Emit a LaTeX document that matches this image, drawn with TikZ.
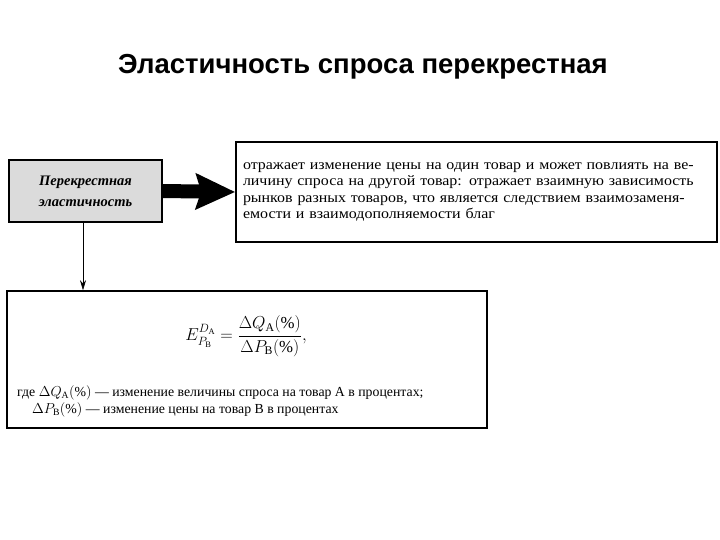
\documentclass[tikz,border=0pt]{standalone}
\usepackage{amsmath}
\usepackage{fontspec}
\setmainfont{Liberation Serif}
\newfontfamily\titlefont{Liberation Sans}
\newfontfamily\widefont[FakeStretch=1.1]{Liberation Serif}
\usetikzlibrary{arrows.meta}

\begin{document}
\begin{tikzpicture}[x=1pt,y=-1pt,
  frame/.style={draw,line width=1.6pt,inner sep=0pt},
  lab/.style={inner sep=0pt,align=left}]
\useasboundingbox (0,0) rectangle (720,540);
% --- title ---
\node[anchor=base,inner sep=0pt,font=\titlefont\bfseries\fontsize{27.5}{32}\selectfont] (title) at (363,74) {Эластичность спроса перекрестная};
% --- boxes ---
\node[frame,fill=gray!28,minimum width=153pt,minimum height=62pt,align=center,
      font=\bfseries\itshape\fontsize{14.5}{21}\selectfont] (cross) at (85.5,191) {Перекрестная\\эластичность};
\node[frame,minimum width=481pt,minimum height=100pt,inner sep=7pt,text width=467pt,align=left,
      font=\widefont\fontsize{14.5}{16.5}\selectfont] (meaning) at (476.5,192)
  {отражает изменение цены на один товар и может повлиять на ве-\\
   личину спроса на другой товар: отражает взаимную зависимость\\
   рынков разных товаров, что является следствием взаимозаменя-\\
   емости и взаимодополняемости благ};
\node[frame,minimum width=480pt,minimum height=137pt] (formula) at (247,359.5) {};
% --- formula and notation ---
\node[lab,font=\fontsize{16.8}{20}\selectfont] (eq) at (246,336)
  {$\displaystyle E^{D_{\text{А}}}_{P_{\text{В}}}=\frac{\Delta Q_{\text{А}}(\%)}{\Delta P_{\text{В}}(\%)},$};
\node[lab,anchor=base west,font=\fontsize{13.8}{17}\selectfont] (where) at (17,413)
  {где $\Delta Q_{\text{А}}(\%)$ --- изменение величины спроса на товар А в процентах;\\
   \hspace*{15pt}$\Delta P_{\text{В}}(\%)$ --- изменение цены на товар В в процентах};
% --- connectors ---
\draw[line width=14pt,-{Stealth[length=39pt,width=35pt,inset=5pt]}] (cross.east) -- (meaning.west);
\draw[line width=0.6pt,-{Stealth[length=10pt,width=6pt]}] (cross.south -| 83,0) -- (formula.north -| 83,0);
\end{tikzpicture}
\end{document}
